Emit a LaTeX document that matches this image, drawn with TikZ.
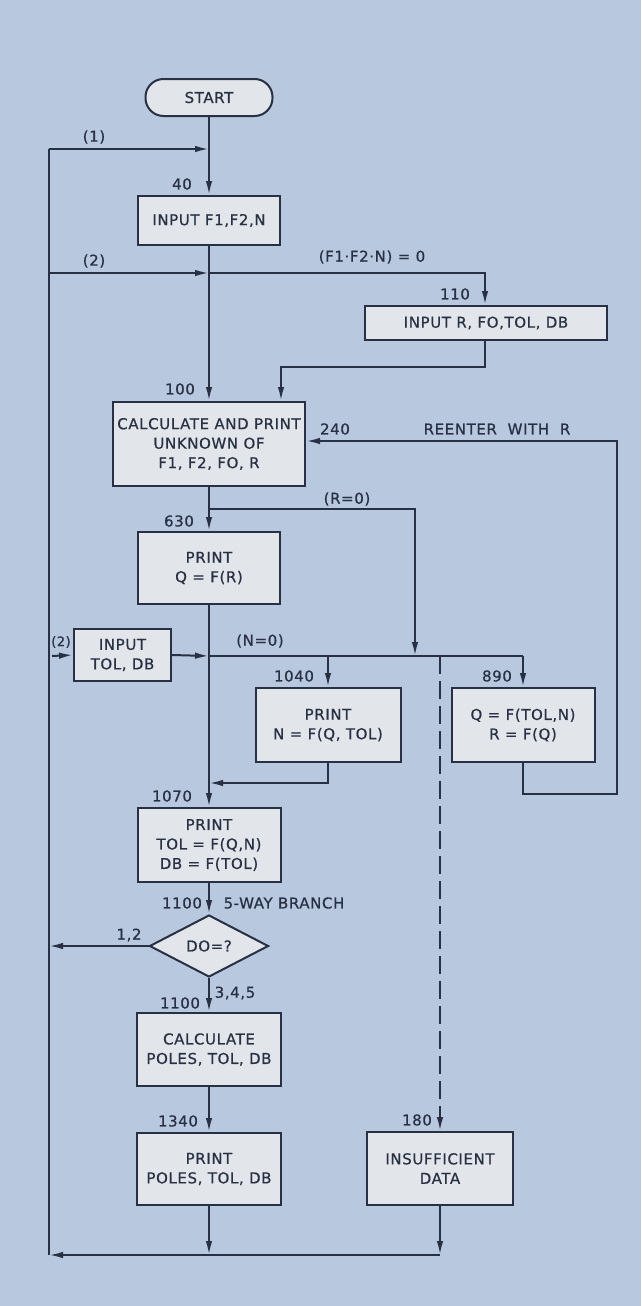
\documentclass[tikz,border=0pt]{standalone}
\usepackage{fontspec}
\setmainfont{DejaVu Sans}[FakeBold=0.6,LetterSpace=4]
\usetikzlibrary{arrows.meta,shapes.geometric}
\definecolor{bgblue}{RGB}{184,200,222}
\definecolor{boxfill}{RGB}{226,229,234}
\definecolor{ink}{RGB}{40,48,68}
\begin{document}
\begin{tikzpicture}[x=1pt,y=-1pt,
  every node/.style={text=ink,font=\fontsize{15}{19.5}\selectfont},
  flow/.style={draw=ink,line width=2pt},
  arr/.style={flow,-{Latex[length=14pt,width=6.5pt]}},
  procbox/.style={draw=ink,line width=2pt,fill=boxfill,align=center,inner sep=2pt},
  termbox/.style={procbox,rounded corners=18pt},
  decbox/.style={draw=ink,line width=2pt,fill=boxfill,diamond,inner sep=0pt},
  lbl/.style={inner sep=1pt}]
\useasboundingbox (0,0) rectangle (641,1306);
\fill[bgblue] (0,0) rectangle (641,1306);

% nodes
\node[termbox,minimum width=127pt,minimum height=37pt] (start) at (209,97.5) {START};
\node[procbox,minimum width=142pt,minimum height=49pt] (b40) at (209,220.5) {INPUT F1,F2,N};
\node[procbox,minimum width=242pt,minimum height=34pt] (b110) at (486,323) {INPUT R, FO,TOL, DB};
\node[procbox,minimum width=192pt,minimum height=84pt] (b100) at (209,444) {CALCULATE AND PRINT\\UNKNOWN OF\\F1, F2, FO, R};
\node[procbox,minimum width=142pt,minimum height=72pt] (b630) at (209,568) {PRINT\\Q = F(R)};
\node[procbox,minimum width=97pt,minimum height=52pt] (binp) at (122.5,655) {INPUT\\TOL, DB};
\node[procbox,minimum width=145pt,minimum height=74pt] (b1040) at (328,725) {PRINT\\N = F(Q, TOL)};
\node[procbox,minimum width=143pt,minimum height=74pt] (b890) at (523,725) {Q = F(TOL,N)\\R = F(Q)};
\node[procbox,minimum width=143pt,minimum height=74pt] (b1070) at (209,845) {PRINT\\TOL = F(Q,N)\\DB = F(TOL)};
\node[decbox,minimum width=119pt,minimum height=62pt,aspect=1.9] (dia) at (209,946) {DO=?};
\node[procbox,minimum width=144pt,minimum height=73pt] (b1100) at (209,1049.5) {CALCULATE\\POLES, TOL, DB};
\node[procbox,minimum width=144pt,minimum height=72pt] (b1340) at (209,1169) {PRINT\\POLES, TOL, DB};
\node[procbox,minimum width=146pt,minimum height=73pt] (b180) at (440,1168.5) {INSUFFICIENT\\DATA};

% junction coordinates
\coordinate (lTop) at (49,149);
\coordinate (mTop) at (209,149);
\coordinate (l2) at (49,273);
\coordinate (m2) at (209,273);
\coordinate (r2) at (485,273);
\coordinate (j110a) at (485,367);
\coordinate (j110b) at (281,367);
\coordinate (mR) at (209,509);
\coordinate (rR) at (415,509);
\coordinate (dR) at (415,656);
\coordinate (mN) at (209,656);
\coordinate (n1040) at (328,656);
\coordinate (nDash) at (440,656);
\coordinate (n890) at (523,656);
\coordinate (d1040) at (328,783);
\coordinate (m1040) at (209,783);
\coordinate (d890) at (523,794);
\coordinate (c890) at (617,794);
\coordinate (cTop) at (617,441);
\coordinate (l12) at (49,946);
\coordinate (mBot) at (209,1255);
\coordinate (rBot) at (440,1255);
\coordinate (lBot) at (49,1255);
\coordinate (e2) at (52,656);

% connectors
\draw[arr] (start) -- (b40);
\draw[flow] (lBot) -- (lTop);
\draw[arr] (lTop) -- (mTop);
\draw[arr] (l2) -- (m2);
\draw[arr] (m2) -- (r2) -- (b110.north -| r2);
\draw[arr] (b110.south -| j110a) -- (j110a) -- (j110b) -- (b100.north -| j110b);
\draw[arr] (b40) -- (b100);
\draw[arr] (b100) -- (b630);
\draw[arr] (mR) -- (rR) -- (dR);
\draw[arr] (e2) -- (binp.west);
\draw[arr] (binp.east) -- (mN);
\draw[flow] (mN) -- (n890);
\draw[arr] (n890) -- (b890.north -| n890);
\draw[arr] (n1040) -- (b1040.north);
\draw[arr,dash pattern=on 18pt off 7pt] (nDash) -- (b180.north);
\draw[arr] (b890.south -| d890) -- (d890) -- (c890) -- (cTop) -- (b100.east |- cTop);
\draw[arr] (b1040.south) -- (d1040) -- (m1040);
\draw[arr] (b630) -- (b1070);
\draw[arr] (b1070) -- (dia);
\draw[arr] (dia.west) -- (l12);
\draw[arr] (dia) -- (b1100);
\draw[arr] (b1100) -- (b1340);
\draw[arr] (b1340) -- (mBot);
\draw[arr] (b180) -- (rBot);
\draw[arr] (rBot) -- (lBot);

% labels
\node[lbl] (t1) at (94,137) {(1)};
\node[lbl] (t2) at (94,261) {(2)};
\node[lbl] (tF) at (372,257) {(F1·F2·N) = 0};
\node[lbl] (t40) at (182,184) {40};
\node[lbl] (t110) at (455,294) {110};
\node[lbl] (t100) at (180,389) {100};
\node[lbl] (t240) at (335,429) {240};
\node[lbl] (tRe) at (497,429) {REENTER\ \ WITH\ \ R};
\node[lbl] (tR0) at (347,499) {(R=0)};
\node[lbl] (t630) at (179,521) {630};
\node[lbl,font=\fontsize{13}{15}\selectfont] (t2b) at (61,642) {(2)};
\node[lbl] (tN0) at (260,641) {(N=0)};
\node[lbl] (t1040) at (294,676) {1040};
\node[lbl] (t890) at (497,676) {890};
\node[lbl] (t1070) at (172,796) {1070};
\node[lbl] (t1100a) at (182,903) {1100};
\node[lbl] (t5w) at (284,903) {5-WAY BRANCH};
\node[lbl] (t12) at (129,935) {1,2};
\node[lbl] (t345) at (235,993) {3,4,5};
\node[lbl] (t1100b) at (180,1003) {1100};
\node[lbl] (t1340) at (178,1121) {1340};
\node[lbl] (t180) at (417,1120) {180};
\end{tikzpicture}
\end{document}
